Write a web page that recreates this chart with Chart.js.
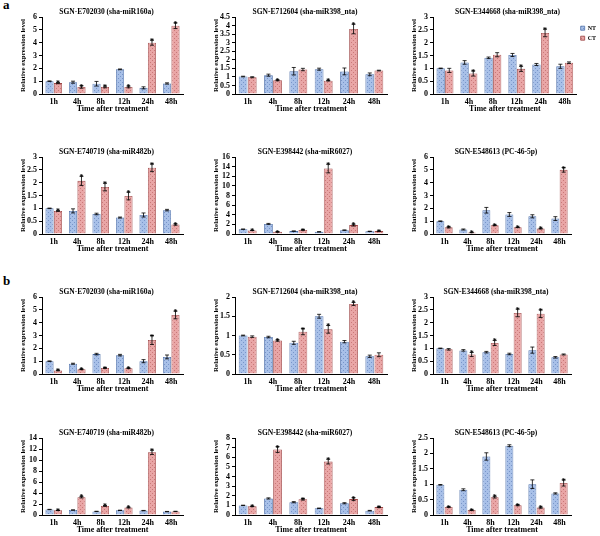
<!DOCTYPE html>
<html><head><meta charset="utf-8">
<script src="https://cdn.jsdelivr.net/npm/chart.js@4"></script>
<style>
html,body{margin:0;padding:0;background:#fff;width:600px;height:536px;overflow:hidden;}
.panel{position:absolute;}
.lab{position:absolute;font:bold 13px "Liberation Serif";color:#000;}
</style></head><body>
<div class="lab" style="left:3px;top:-3px">a</div>
<div class="lab" style="left:3px;top:273px">b</div>
<script>
// ---------- data ----------
const timePoints = ['1h','4h','8h','12h','24h','48h'];
const seriesNames = ['NT','CT'];
const panelTitles = [
  'SGN-E702030 (sha-miR160a)', 'SGN-E712604 (sha-miR398_nta)', 'SGN-E344668 (sha-miR398_nta)',
  'SGN-E740719 (sha-miR482b)', 'SGN-E398442 (sha-miR6027)', 'SGN-E548613 (PC-46-5p)',
  'SGN-E702030 (sha-miR160a)', 'SGN-E712604 (sha-miR398_nta)', 'SGN-E344668 (sha-miR398_nta)',
  'SGN-E740719 (sha-miR482b)', 'SGN-E398442 (sha-miR6027)', 'SGN-E548613 (PC-46-5p)'
];
const yMax  = [6, 4.5, 3, 3, 16, 6, 6, 2, 3, 14, 8, 2.5];
const yStep = [1, 0.5, 0.5, 0.5, 2, 1, 1, 0.5, 0.5, 2, 1, 0.5];
const yAxisTitle = 'Relative expression level';
const xAxisTitle = 'Time after treatment';

// (a) panels
const a1NT = [1.00, 0.92, 0.80, 1.92, 0.48, 0.82];
const a1NTerr = [0.02, 0.08, 0.18, 0.03, 0.08, 0.05];
const a1CT = [0.85, 0.55, 0.55, 0.55, 4.00, 5.32];
const a1CTerr = [0.05, 0.10, 0.07, 0.07, 0.20, 0.22];
const a1Star = [1, 1, 1, 1, 1, 1];

const a2NT = [1.02, 1.10, 1.33, 1.45, 1.32, 1.15];
const a2NTerr = [0.02, 0.06, 0.22, 0.06, 0.20, 0.08];
const a2CT = [0.98, 0.80, 1.43, 0.78, 3.80, 1.37];
const a2CTerr = [0.03, 0.03, 0.07, 0.02, 0.28, 0.02];
const a2Star = [0, 1, 0, 1, 1, 0];

const a3NT = [1.00, 1.23, 1.41, 1.52, 1.15, 1.08];
const a3NTerr = [0.01, 0.07, 0.03, 0.06, 0.04, 0.08];
const a3CT = [0.92, 0.80, 1.53, 0.98, 2.38, 1.22];
const a3CTerr = [0.08, 0.10, 0.08, 0.10, 0.15, 0.03];
const a3Star = [0, 1, 0, 1, 1, 0];

const a4NT = [1.00, 0.90, 0.78, 0.64, 0.74, 0.93];
const a4NTerr = [0.01, 0.08, 0.03, 0.02, 0.08, 0.03];
const a4CT = [0.90, 2.07, 1.83, 1.48, 2.58, 0.37];
const a4CTerr = [0.02, 0.18, 0.15, 0.15, 0.15, 0.03];
const a4Star = [1, 1, 1, 1, 1, 1];

const a5NT = [1.00, 2.10, 0.60, 0.45, 0.80, 0.55];
const a5NTerr = [0.02, 0.10, 0.03, 0.03, 0.05, 0.03];
const a5CT = [0.75, 0.45, 0.85, 13.6, 1.85, 0.60];
const a5CTerr = [0.03, 0.03, 0.05, 0.90, 0.20, 0.03];
const a5Star = [1, 1, 1, 1, 1, 1];

const a6NT = [1.00, 0.35, 1.85, 1.52, 1.38, 1.20];
const a6NTerr = [0.02, 0.04, 0.22, 0.15, 0.12, 0.15];
const a6CT = [0.52, 0.12, 0.68, 0.52, 0.42, 5.00];
const a6CTerr = [0.05, 0.02, 0.03, 0.02, 0.03, 0.18];
const a6Star = [1, 1, 1, 1, 1, 1];

// (b) panels
const b1NT = [1.00, 0.80, 1.55, 1.47, 1.00, 1.33];
const b1NTerr = [0.02, 0.04, 0.06, 0.06, 0.12, 0.15];
const b1CT = [0.28, 0.37, 0.47, 0.45, 2.65, 4.60];
const b1CTerr = [0.03, 0.03, 0.03, 0.03, 0.35, 0.30];
const b1Star = [1, 1, 1, 1, 1, 1];

const b2NT = [1.00, 0.96, 0.81, 1.50, 0.84, 0.46];
const b2NTerr = [0.01, 0.02, 0.04, 0.05, 0.03, 0.03];
const b2CT = [0.97, 0.87, 1.10, 1.16, 1.82, 0.50];
const b2CTerr = [0.02, 0.02, 0.08, 0.10, 0.04, 0.05];
const b2Star = [0, 1, 1, 1, 1, 0];

const b3NT = [1.00, 0.92, 0.85, 0.78, 0.93, 0.65];
const b3NTerr = [0.01, 0.03, 0.03, 0.03, 0.12, 0.03];
const b3CT = [0.96, 0.76, 1.21, 2.38, 2.35, 0.76];
const b3CTerr = [0.03, 0.08, 0.10, 0.15, 0.15, 0.02];
const b3Star = [0, 1, 1, 1, 1, 0];

const b4NT = [1.00, 0.90, 0.65, 0.85, 0.80, 0.62];
const b4NTerr = [0.03, 0.03, 0.03, 0.03, 0.03, 0.03];
const b4CT = [0.85, 3.25, 1.65, 1.35, 11.4, 0.65];
const b4CTerr = [0.03, 0.15, 0.08, 0.08, 0.40, 0.03];
const b4Star = [1, 1, 1, 1, 1, 0];

const b5NT = [1.00, 1.72, 1.33, 0.70, 1.22, 0.45];
const b5NTerr = [0.02, 0.06, 0.06, 0.02, 0.06, 0.03];
const b5CT = [0.90, 6.80, 1.63, 5.55, 1.65, 0.82];
const b5CTerr = [0.03, 0.30, 0.08, 0.25, 0.15, 0.05];
const b5Star = [1, 1, 1, 1, 1, 1];

const b6NT = [0.98, 0.82, 1.90, 2.25, 1.00, 0.70];
const b6NTerr = [0.01, 0.03, 0.12, 0.03, 0.14, 0.02];
const b6CT = [0.26, 0.16, 0.58, 0.32, 0.24, 1.04];
const b6CTerr = [0.01, 0.01, 0.03, 0.02, 0.02, 0.10];
const b6Star = [1, 1, 1, 1, 1, 1];

// ---------- assembly ----------
const panelData = [
  [a1NT, a1NTerr, a1CT, a1CTerr, a1Star], [a2NT, a2NTerr, a2CT, a2CTerr, a2Star], [a3NT, a3NTerr, a3CT, a3CTerr, a3Star],
  [a4NT, a4NTerr, a4CT, a4CTerr, a4Star], [a5NT, a5NTerr, a5CT, a5CTerr, a5Star], [a6NT, a6NTerr, a6CT, a6CTerr, a6Star],
  [b1NT, b1NTerr, b1CT, b1CTerr, b1Star], [b2NT, b2NTerr, b2CT, b2CTerr, b2Star], [b3NT, b3NTerr, b3CT, b3CTerr, b3Star],
  [b4NT, b4NTerr, b4CT, b4CTerr, b4Star], [b5NT, b5NTerr, b5CT, b5CTerr, b5Star], [b6NT, b6NTerr, b6CT, b6CTerr, b6Star]
];

// layout (pixel geometry of each plot area)
const colAxisX = [42, 235, 433];
const colRight = [183, 387, 571];
const rowTop = [17, 157, 297, 438];
const rowBottom = [94, 234, 374, 515];
const Y_W = 24, X_H = 20, TITLE_H = 11, RIGHT_W = 12;

const FONT = '"Liberation Serif", "Times New Roman", serif';
Chart.defaults.color = '#000';
Chart.defaults.font.family = FONT;
Chart.defaults.font.weight = 'bold';
Chart.defaults.animation = false;

function makePattern(base, dot) {
  const c = document.createElement('canvas');
  c.width = 4; c.height = 4;
  const g = c.getContext('2d');
  g.fillStyle = base; g.fillRect(0, 0, 4, 4);
  g.fillStyle = dot; g.fillRect(0, 0, 1, 1); g.fillRect(2, 2, 1, 1);
  return g.createPattern(c, 'repeat');
}
const bluePat = makePattern('#a8c0e8', '#7895c9');
const redPat = makePattern('#e9a6a6', '#c97878');

const errPlugin = {
  id: 'errBars',
  afterDatasetsDraw(chart) {
    const ctx = chart.ctx, ys = chart.scales.y;
    chart.data.datasets.forEach((ds, di) => {
      const meta = chart.getDatasetMeta(di);
      meta.data.forEach((bar, i) => {
        const v = ds.data[i], e = ds.errors[i];
        const top = ys.getPixelForValue(v + e), bot = ys.getPixelForValue(Math.max(0, v - e));
        ctx.save();
        ctx.strokeStyle = '#000'; ctx.lineWidth = 0.8;
        ctx.beginPath();
        ctx.moveTo(bar.x, top); ctx.lineTo(bar.x, bot);
        ctx.moveTo(bar.x - 2, top); ctx.lineTo(bar.x + 2, top);
        ctx.moveTo(bar.x - 2, bot); ctx.lineTo(bar.x + 2, bot);
        ctx.stroke();
        if (ds.stars && ds.stars[i]) {
          ctx.fillStyle = '#000';
          ctx.font = 'bold 8px ' + FONT;
          ctx.textAlign = 'center'; ctx.textBaseline = 'alphabetic';
          ctx.fillText('*', bar.x, top + 4);
        }
        ctx.restore();
      });
    });
  }
};

const fmtTick = v => String(+(+v).toFixed(2));

panelData.forEach((pd, idx) => {
  const col = idx % 3, row = Math.floor(idx / 3);
  const withLegend = idx === 2;
  const left = colAxisX[col] - Y_W;
  const top = rowTop[row] - TITLE_H;
  const right = withLegend ? 606 : colRight[col] + RIGHT_W;
  const w = right - left, h = Math.round(rowBottom[row] + X_H - top);
  const div = document.createElement('div');
  div.className = 'panel';
  div.style.left = left + 'px'; div.style.top = top + 'px';
  div.style.width = w + 'px'; div.style.height = h + 'px';
  const cv = document.createElement('canvas');
  cv.width = w; cv.height = h;
  div.appendChild(cv); document.body.appendChild(div);

  const scales = {
    x: {
      grid: { display: false, drawTicks: false },
      border: { display: true, color: '#000', width: 1 },
      ticks: { padding: 3, font: { size: 8, weight: 'bold', family: FONT } },
      title: { display: true, text: xAxisTitle, font: { size: 8, weight: 'bold', family: FONT }, padding: 0 },
      afterFit(s) { s.height = X_H; }
    },
    y: {
      min: 0, max: yMax[idx],
      grid: { display: true, drawOnChartArea: false, drawTicks: true, tickLength: 3, color: '#000' },
      border: { display: true, color: '#000', width: 1 },
      ticks: { stepSize: yStep[idx], autoSkip: false, padding: 2, callback: fmtTick,
               font: { size: 8, weight: 'bold', family: FONT } },
      title: { display: true, text: yAxisTitle, font: { size: 7, weight: 'bold', family: FONT }, padding: { top: 1, bottom: 0 } },
      afterFit(s) { s.width = Y_W; }
    }
  };
  if (!withLegend) {
    // empty spacer on the right so the panel title sits over the plot like the original
    scales.yR = {
      position: 'right', display: true,
      grid: { display: false }, border: { display: false }, ticks: { display: false },
      afterFit(s) { s.width = RIGHT_W; }
    };
  }

  new Chart(cv, {
    type: 'bar',
    data: {
      labels: timePoints,
      datasets: [
        { label: seriesNames[0], data: pd[0], errors: pd[1], stars: null, yAxisID: 'y',
          backgroundColor: bluePat, borderColor: '#4d6fa8', borderWidth: 0.8,
          categoryPercentage: 0.72, barPercentage: 0.96 },
        { label: seriesNames[1], data: pd[2], errors: pd[3], stars: pd[4], yAxisID: 'y',
          backgroundColor: redPat, borderColor: '#9c4545', borderWidth: 0.8,
          categoryPercentage: 0.72, barPercentage: 0.96 }
      ]
    },
    options: {
      responsive: false,
      animation: false,
      layout: { padding: 0 },
      plugins: {
        title: { display: true, text: panelTitles[idx], font: { size: 7.5, weight: 'bold', family: FONT },
                 padding: { top: 2, bottom: 0 } },
        legend: withLegend ? {
          display: true, position: 'right', align: 'start',
          title: { display: true, text: ' ', font: { size: 6, family: FONT }, padding: { top: 8, bottom: 0 } },
          labels: { boxWidth: 4, boxHeight: 4, padding: 4, font: { size: 6, weight: 'bold', family: FONT } }
        } : { display: false },
        tooltip: { enabled: false }
      },
      scales: scales
    },
    plugins: [errPlugin]
  });
});
</script>
</body></html>
